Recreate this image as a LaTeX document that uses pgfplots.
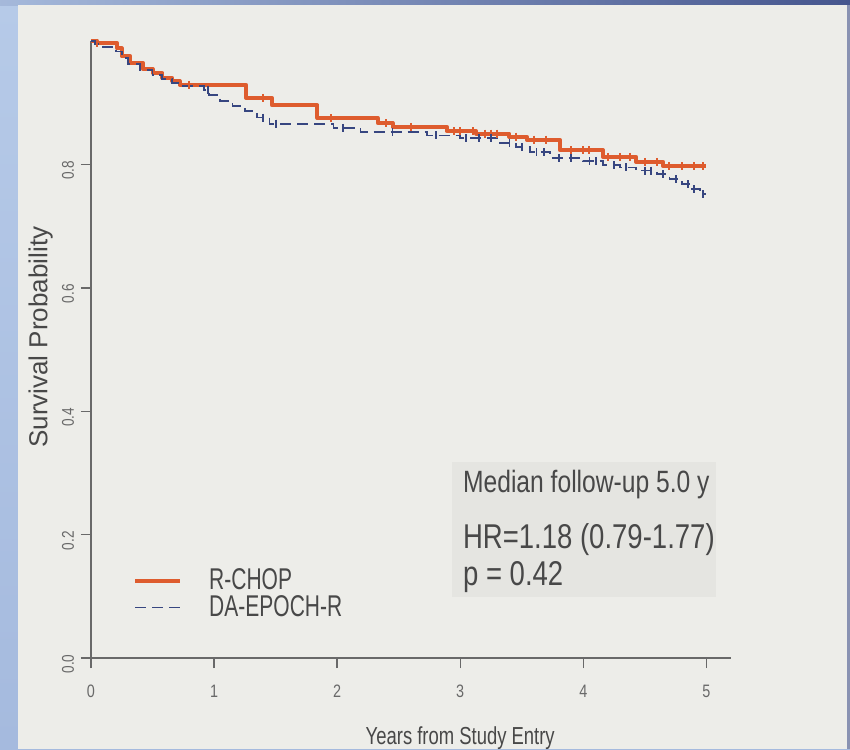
\documentclass[border=0pt]{standalone}
\usepackage{pgfplots}
\pgfplotsset{compat=1.18}
\usepackage{fontspec}
\setmainfont{Liberation Sans}
\newfontfamily\narrowA{Liberation Sans}[FakeStretch=0.8]
\newfontfamily\narrowB{Liberation Sans}[FakeStretch=0.7]
\newfontfamily\narrowC{Liberation Sans}[FakeStretch=0.75]
\definecolor{paper}{RGB}{237,237,233}
\definecolor{slideblue}{RGB}{182,202,232}
\definecolor{slidelow}{RGB}{165,186,222}
\definecolor{slidedark}{RGB}{70,86,142}
\definecolor{boxgrey}{RGB}{229,229,225}
\definecolor{rchop}{RGB}{222,92,46}
\definecolor{epoch}{RGB}{55,70,128}
\definecolor{axgrey}{RGB}{105,105,105}
\definecolor{txtgrey}{RGB}{72,72,72}
\begin{document}
\begin{tikzpicture}
\shade[top color=slideblue, bottom color=slidelow] (0,0) rectangle (425pt,-374.5pt);
\shade[left color=slideblue!85!slidedark, right color=slidedark] (0,0) rectangle (425pt,-3pt);
\fill[paper] (8.75pt,-2.5pt) rectangle (423.5pt,-374.5pt);
\fill[slidedark!60!paper] (423.5pt,-2.5pt) rectangle (425pt,-374.5pt);
\begin{axis}[
  at={(45.5pt,-329pt)}, anchor=south west,
  scale only axis, width=320pt, height=308.5pt,
  xmin=0, xmax=5.2, ymin=0, ymax=1.0,
  axis x line=bottom, axis y line=left,
  axis line style={axgrey, line width=0.7pt, -},
  tick style={axgrey, line width=0.7pt},
  major tick length=5pt, tick align=outside,
  xtick={0,1,2,3,4,5}, xticklabels={0,1,2,3,4,5},
  ytick={0,0.2,0.4,0.6,0.8}, yticklabels={0.0,0.2,0.4,0.6,0.8},
  xticklabel style={font=\narrowA\fontsize{9}{9}\selectfont, text=axgrey, yshift=-5pt},
  yticklabel style={rotate=90, anchor=south, font=\narrowA\fontsize{8.5}{9}\selectfont, text=axgrey, xshift=-3pt},
  clip=false,
  legend style={at={(axis cs:0.34,0.148)}, anchor=north west, draw=none, fill=none,
    font=\narrowB\fontsize{15}{15}\selectfont, text=txtgrey, inner sep=0pt,
    row sep=0pt, column sep=13.5pt,
    nodes={inner sep=0pt, anchor=west, text height=11pt, text depth=2.5pt}},
  legend cell align=left,
  legend image code/.code={\draw[#1] (0pt,0pt) -- (22.5pt,0pt);},
]
% R-CHOP
\addplot[const plot, color=rchop, line width=2pt, line join=round] coordinates {
(0,1.0)(0.05,0.997)(0.21,0.988)(0.25,0.975)(0.32,0.965)(0.42,0.955)(0.5,0.948)
(0.58,0.940)(0.66,0.935)(0.72,0.929)(1.26,0.908)(1.47,0.896)(1.84,0.875)
(2.33,0.867)(2.45,0.861)(2.89,0.854)(3.13,0.850)(3.40,0.845)(3.54,0.840)
(3.81,0.823)(4.16,0.812)(4.43,0.804)(4.65,0.797)(5.0,0.797)};
\addlegendentry{R-CHOP}
% DA-EPOCH-R
\addplot[const plot, color=epoch, line width=0.9pt, dash pattern=on 5.5pt off 3pt] coordinates {
(0,1.0)(0.03,0.995)(0.1,0.990)(0.2,0.983)(0.25,0.973)(0.3,0.963)(0.4,0.953)
(0.5,0.945)(0.58,0.938)(0.66,0.932)(0.72,0.927)(0.92,0.920)(0.96,0.912)
(1.05,0.903)(1.15,0.895)(1.25,0.886)(1.35,0.876)(1.45,0.866)(1.97,0.859)
(2.19,0.852)(2.73,0.847)(3.0,0.843)(3.32,0.835)(3.45,0.828)(3.57,0.820)
(3.73,0.810)(4.0,0.805)(4.16,0.799)(4.3,0.795)(4.43,0.790)(4.6,0.784)
(4.7,0.776)(4.8,0.768)(4.88,0.760)(4.95,0.752)(5.0,0.752)};
\addlegendentry{DA-EPOCH-R}
% censoring marks
\addplot[forget plot, only marks, mark=|, mark size=2pt, color=rchop, mark options={line width=1pt}] coordinates {
(0.05,0.997)(0.8,0.929)(1.4,0.908)(1.95,0.875)(2.4,0.867)(2.6,0.861)(2.95,0.854)
(3.0,0.854)(3.1,0.854)(3.2,0.850)(3.25,0.850)(3.3,0.850)(3.45,0.845)(3.6,0.840)
(3.7,0.840)(3.9,0.823)(4.0,0.823)(4.05,0.823)(4.2,0.812)(4.3,0.812)(4.38,0.812)
(4.5,0.804)(4.6,0.804)(4.7,0.797)(4.8,0.797)(4.9,0.797)(4.97,0.797)};
\addplot[forget plot, only marks, mark=|, mark size=2pt, color=epoch, mark options={line width=0.9pt}] coordinates {
(0.95,0.920)(1.4,0.876)(1.5,0.866)(2.05,0.859)(2.45,0.852)(2.8,0.847)(3.05,0.843)
(3.15,0.843)(3.25,0.843)(3.4,0.835)(3.5,0.828)(3.62,0.820)(3.68,0.820)(3.8,0.810)
(3.9,0.810)(4.05,0.805)(4.1,0.805)(4.25,0.799)(4.35,0.795)(4.5,0.790)(4.55,0.790)
(4.65,0.784)(4.75,0.776)(4.85,0.768)(4.9,0.760)(4.97,0.752)};
% annotation box
\path[fill=boxgrey] (axis cs:2.93,0.318) rectangle (axis cs:5.08,0.099);
\node[anchor=base west, inner sep=0pt, text=txtgrey, font=\narrowA\fontsize{15.4}{15}\selectfont] at (axis cs:3.02,0.269) {Median follow-up 5.0 y};
\node[anchor=base west, inner sep=0pt, text=txtgrey, font=\narrowA\fontsize{17.2}{17}\selectfont] at (axis cs:3.02,0.178) {HR=1.18 (0.79-1.77)};
\node[anchor=base west, inner sep=0pt, text=txtgrey, font=\narrowA\fontsize{17.2}{17}\selectfont] at (axis cs:3.02,0.118) {p = 0.42};
% axis labels
\node[text=txtgrey, font=\narrowC\fontsize{12.3}{12}\selectfont] at (axis cs:3.0,-0.13) {Years from Study Entry};
\node[rotate=90, text=txtgrey, font=\fontsize{13}{13}\selectfont] at (axis cs:-0.41,0.52) {Survival Probability};
\end{axis}
\pgfresetboundingbox
\path (0,0) rectangle (425pt,-374.5pt);
\end{tikzpicture}
\end{document}
